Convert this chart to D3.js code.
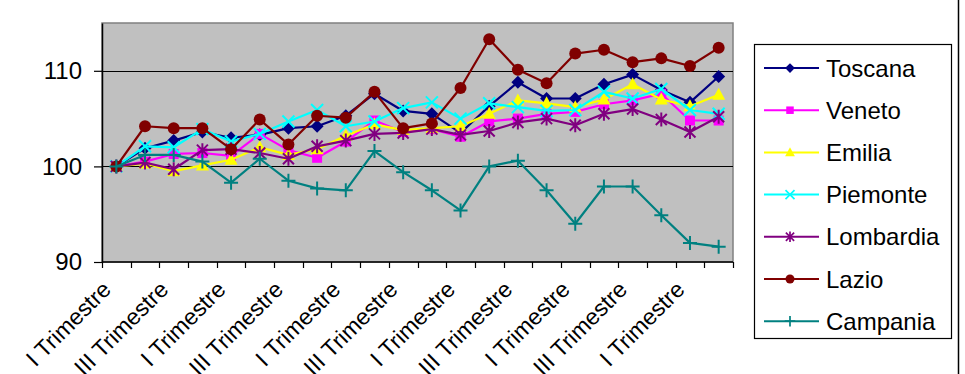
<!DOCTYPE html>
<html>
<head>
<meta charset="utf-8">
<script src="https://cdn.jsdelivr.net/npm/d3@7"></script>
<style>
  html, body { margin: 0; padding: 0; background: #fff; }
  svg { display: block; font-family: "Liberation Sans", Arial, sans-serif; }
</style>
</head>
<body>
<svg id="chart" width="965" height="374"></svg>
<script>
// Quarterly index (first quarter = 100) for seven Italian regions
const quarters = [
  "I Trimestre", "II Trimestre", "III Trimestre", "IV Trimestre",
  "I Trimestre", "II Trimestre", "III Trimestre", "IV Trimestre",
  "I Trimestre", "II Trimestre", "III Trimestre", "IV Trimestre",
  "I Trimestre", "II Trimestre", "III Trimestre", "IV Trimestre",
  "I Trimestre", "II Trimestre", "III Trimestre", "IV Trimestre",
  "I Trimestre", "II Trimestre"
];
const regions = ["Toscana", "Veneto", "Emilia", "Piemonte", "Lombardia", "Lazio", "Campania"];

const toscana   = [100, 101.9, 102.7, 103.6, 103.0, 103.3, 104.0, 104.2, 105.3, 107.6, 105.8, 105.5, 103.5, 106.3, 108.8, 107.1, 107.1, 108.6, 109.6, 108.0, 106.7, 109.4];
const veneto    = [100, 100.5, 101.3, 101.4, 101.1, 103.4, 101.7, 100.9, 102.6, 104.8, 103.6, 103.9, 103.1, 104.7, 105.0, 105.5, 105.7, 106.5, 106.9, 107.6, 104.8, 104.8];
const emilia    = [100, 100.3, 99.5, 100.1, 100.7, 102.0, 101.2, 101.8, 103.2, 104.4, 103.8, 104.0, 104.2, 105.5, 106.9, 106.6, 106.2, 107.0, 108.6, 107.0, 106.3, 107.5];
const piemonte  = [100, 102.1, 102.0, 103.9, 102.6, 103.4, 104.7, 105.9, 104.2, 104.7, 106.1, 106.7, 105.0, 106.6, 106.2, 105.8, 105.9, 107.8, 107.1, 108.1, 105.9, 105.5];
const lombardia = [100, 100.4, 99.7, 101.7, 101.8, 101.4, 100.8, 102.1, 102.7, 103.4, 103.5, 103.9, 103.3, 103.7, 104.6, 105.0, 104.3, 105.5, 106.0, 104.9, 103.6, 105.2];
const lazio     = [100, 104.2, 104.0, 104.0, 101.8, 104.9, 102.3, 105.3, 105.1, 107.8, 104.0, 104.5, 108.2, 113.3, 110.1, 108.7, 111.8, 112.2, 110.9, 111.3, 110.5, 112.4];
const campania  = [100, 101.2, 101.2, 100.5, 98.3, 100.8, 98.5, 97.7, 97.5, 101.6, 99.4, 97.5, 95.4, 100.0, 100.6, 97.5, 94.0, 97.9, 97.9, 94.9, 92.0, 91.6];

const yTicks = [90, 100, 110];

const seriesValues = [toscana, veneto, emilia, piemonte, lombardia, lazio, campania];
const colors = ["#000080", "#FF00FF", "#FFFF00", "#00FFFF", "#800080", "#800000", "#008080"];
const markers = ["diamond", "square", "triangle", "x", "asterisk", "circle", "plus"];

const series = regions.map((name, k) => ({
  name, values: seriesValues[k], color: colors[k], marker: markers[k]
}));

const svg = d3.select("#chart");
const plot = { left: 102, top: 23, right: 733, bottom: 262 };

const x = d3.scaleBand()
  .domain(d3.range(quarters.length))
  .range([plot.left, plot.right])
  .paddingInner(0).paddingOuter(0);

const y = d3.scaleLinear().domain([90, 115]).range([plot.bottom, plot.top]);

const cx = i => x(i) + x.bandwidth() / 2;

// plot area
svg.append("rect")
  .attr("x", plot.left).attr("y", plot.top)
  .attr("width", plot.right - plot.left).attr("height", plot.bottom - plot.top)
  .attr("fill", "#C0C0C0").attr("stroke", "#808080").attr("stroke-width", 1.5);

// horizontal gridlines
svg.append("g")
  .selectAll("line")
  .data(yTicks.filter(t => t > 90))
  .join("line")
  .attr("x1", plot.left).attr("x2", plot.right)
  .attr("y1", d => Math.round(y(d)) + 0.5).attr("y2", d => Math.round(y(d)) + 0.5)
  .attr("stroke", "#000").attr("stroke-width", 1.2);

// y axis
const yAxis = svg.append("g")
  .attr("transform", `translate(${plot.left},0)`)
  .call(d3.axisLeft(y).tickValues(yTicks).tickSizeInner(8).tickSizeOuter(0).tickPadding(12).tickFormat(d3.format("d")));
yAxis.select(".domain").attr("stroke", "#000").attr("stroke-width", 1.5);
yAxis.selectAll(".tick line").attr("stroke", "#000").attr("stroke-width", 1.2);
yAxis.selectAll("text")
  .attr("font-size", 24).attr("fill", "#000")
  .attr("font-family", "Liberation Sans, Arial, sans-serif");

// x axis: ticks on category boundaries, labels on every other category
const xAxis = svg.append("g").attr("transform", `translate(0,${plot.bottom})`);
xAxis.append("line")
  .attr("x1", plot.left).attr("x2", plot.right)
  .attr("y1", 0).attr("y2", 0)
  .attr("stroke", "#000").attr("stroke-width", 1.5);
xAxis.selectAll("line.tk")
  .data(d3.range(quarters.length + 1))
  .join("line").attr("class", "tk")
  .attr("x1", i => Math.round(plot.left + i * x.step()) + 0.5)
  .attr("x2", i => Math.round(plot.left + i * x.step()) + 0.5)
  .attr("y1", 0).attr("y2", 6)
  .attr("stroke", "#000").attr("stroke-width", 1.2);
xAxis.selectAll("text")
  .data(d3.range(0, quarters.length, 2))
  .join("text")
  .attr("transform", i => `translate(${cx(i) - 4},29) rotate(-45)`)
  .attr("text-anchor", "end")
  .attr("font-size", 23)
  .attr("fill", "#000")
  .text(i => quarters[i]);

// marker shapes
function drawMarker(sel, type, color, s) {
  const st = 2 * Math.min(1, s + 0.1);
  switch (type) {
    case "diamond":
      sel.append("path").attr("d", `M0,${-6.5*s}L${6.5*s},0L0,${6.5*s}L${-6.5*s},0Z`).attr("fill", color);
      break;
    case "square":
      sel.append("rect").attr("x", -5*s).attr("y", -5*s).attr("width", 10*s).attr("height", 10*s).attr("fill", color);
      break;
    case "triangle":
      sel.append("path").attr("d", `M0,${-7*s}L${6.5*s},${5*s}L${-6.5*s},${5*s}Z`).attr("fill", color);
      break;
    case "x":
      sel.append("path").attr("d", `M${-6*s},${-6*s}L${6*s},${6*s}M${-6*s},${6*s}L${6*s},${-6*s}`)
        .attr("stroke", color).attr("stroke-width", st).attr("fill", "none");
      break;
    case "asterisk":
      sel.append("path").attr("d", `M${-5.5*s},${-5.5*s}L${5.5*s},${5.5*s}M${-5.5*s},${5.5*s}L${5.5*s},${-5.5*s}M0,${-7*s}L0,${7*s}`)
        .attr("stroke", color).attr("stroke-width", st).attr("fill", "none");
      break;
    case "circle":
      sel.append("circle").attr("r", 6*s).attr("fill", color);
      break;
    case "plus":
      sel.append("path").attr("d", `M${-7*s},0L${7*s},0M0,${-7*s}L0,${7*s}`)
        .attr("stroke", color).attr("stroke-width", st).attr("fill", "none");
      break;
  }
}

const line = d3.line().x((d, i) => cx(i)).y(d => y(d));

series.forEach(s => {
  const g = svg.append("g");
  g.append("path")
    .attr("d", line(s.values))
    .attr("fill", "none").attr("stroke", s.color).attr("stroke-width", 2.2)
    .attr("stroke-linejoin", "round");
  g.selectAll("g.m")
    .data(s.values)
    .join("g").attr("class", "m")
    .attr("transform", (d, i) => `translate(${cx(i)},${y(d)})`)
    .each(function () { drawMarker(d3.select(this), s.marker, s.color, 1); });
});

// legend
const legend = svg.append("g");
legend.append("rect")
  .attr("x", 754.5).attr("y", 44.5).attr("width", 197).attr("height", 294)
  .attr("fill", "#fff").attr("stroke", "#000").attr("stroke-width", 1.2);
series.forEach((s, k) => {
  const ly = 68 + k * 42.2;
  const row = legend.append("g").attr("transform", `translate(0,${ly})`);
  row.append("line").attr("x1", 764).attr("x2", 819).attr("y1", 0).attr("y2", 0)
    .attr("stroke", s.color).attr("stroke-width", 2);
  const m = row.append("g").attr("transform", "translate(790,0)");
  drawMarker(m, s.marker, s.color, 0.75);
  row.append("text")
    .attr("x", 826).attr("y", 0).attr("dy", "0.36em")
    .attr("font-size", 24).attr("fill", "#000")
    .text(s.name);
});

// chart area border on the right
svg.append("line")
  .attr("x1", 958.5).attr("x2", 958.5).attr("y1", 0).attr("y2", 374)
  .attr("stroke", "#000").attr("stroke-width", 1.5);
</script>
</body>
</html>
